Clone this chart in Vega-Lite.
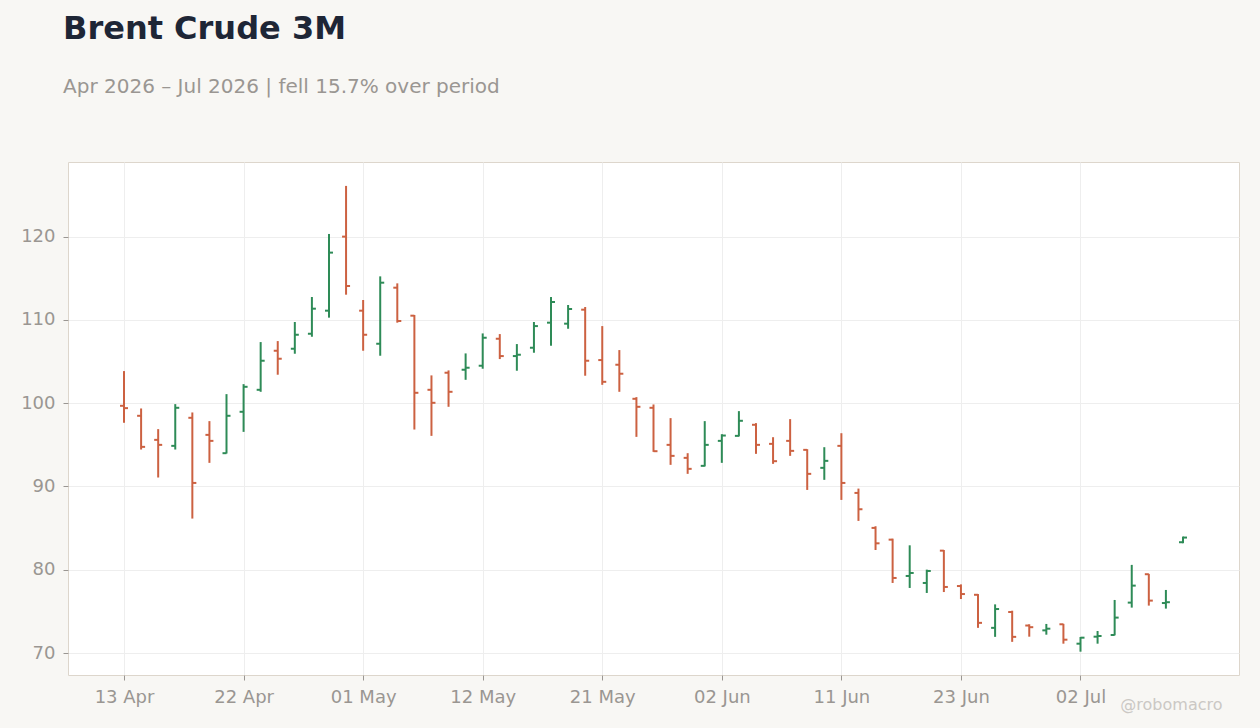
{
  "$schema": "https://vega.github.io/schema/vega-lite/v6.json",
  "autosize": {"type": "none"},
  "width": 1171,
  "height": 513,
  "padding": {"left": 68, "top": 162, "right": 21, "bottom": 53},
  "background": "#f8f7f4",
  "title": {
    "text": "Brent Crude 3M",
    "subtitle": "Apr 2026 – Jul 2026 | fell 15.7% over period",
    "anchor": "start",
    "frame": "group",
    "dx": -5,
    "offset": 64,
    "font": "DejaVu Sans",
    "fontSize": 32,
    "fontWeight": "bold",
    "color": "#1e2636",
    "subtitleFont": "DejaVu Sans",
    "subtitleFontSize": 20,
    "subtitleColor": "#9a9692",
    "subtitlePadding": 31
  },
  "config": {
    "view": {"stroke": "#ddd6cc", "fill": "#ffffff", "strokeWidth": 1},
    "axis": {
      "labelFont": "DejaVu Sans",
      "labelFontSize": 18,
      "labelColor": "#9a9692",
      "tickColor": "#9a9692",
      "tickSize": 5,
      "labelPadding": 8,
      "domain": false,
      "gridColor": "#eeeeee",
      "gridWidth": 1
    }
  },
  "data": {
    "values": [
      {"d": "13 Apr", "o": 99.68, "h": 103.85, "l": 97.64, "c": 99.40},
      {"d": "14 Apr", "o": 98.48, "h": 99.36, "l": 94.43, "c": 94.75},
      {"d": "15 Apr", "o": 95.59, "h": 96.88, "l": 91.07, "c": 94.99},
      {"d": "16 Apr", "o": 94.87, "h": 99.88, "l": 94.43, "c": 99.44},
      {"d": "17 Apr", "o": 98.24, "h": 98.88, "l": 86.14, "c": 90.42},
      {"d": "20 Apr", "o": 96.19, "h": 97.84, "l": 92.83, "c": 95.47},
      {"d": "21 Apr", "o": 93.99, "h": 101.08, "l": 93.95, "c": 98.48},
      {"d": "22 Apr", "o": 98.96, "h": 102.28, "l": 96.55, "c": 101.96},
      {"d": "23 Apr", "o": 101.60, "h": 107.33, "l": 101.36, "c": 105.09},
      {"d": "24 Apr", "o": 106.29, "h": 107.45, "l": 103.41, "c": 105.33},
      {"d": "27 Apr", "o": 106.53, "h": 109.74, "l": 105.93, "c": 108.21},
      {"d": "28 Apr", "o": 108.33, "h": 112.74, "l": 107.97, "c": 111.34},
      {"d": "29 Apr", "o": 111.10, "h": 120.31, "l": 110.26, "c": 118.07},
      {"d": "30 Apr", "o": 119.99, "h": 126.08, "l": 113.02, "c": 114.06},
      {"d": "01 May", "o": 111.10, "h": 112.38, "l": 106.29, "c": 108.21},
      {"d": "04 May", "o": 107.13, "h": 115.22, "l": 105.69, "c": 114.46},
      {"d": "05 May", "o": 113.86, "h": 114.38, "l": 109.66, "c": 109.86},
      {"d": "06 May", "o": 110.50, "h": 110.58, "l": 96.83, "c": 101.24},
      {"d": "07 May", "o": 101.60, "h": 103.33, "l": 96.07, "c": 100.04},
      {"d": "08 May", "o": 103.65, "h": 103.93, "l": 99.56, "c": 101.36},
      {"d": "11 May", "o": 104.01, "h": 105.97, "l": 102.80, "c": 104.25},
      {"d": "12 May", "o": 104.49, "h": 108.37, "l": 104.13, "c": 107.85},
      {"d": "13 May", "o": 107.73, "h": 108.29, "l": 105.29, "c": 105.65},
      {"d": "14 May", "o": 105.65, "h": 107.09, "l": 103.89, "c": 105.81},
      {"d": "15 May", "o": 106.65, "h": 109.74, "l": 106.05, "c": 109.25},
      {"d": "18 May", "o": 109.66, "h": 112.74, "l": 106.89, "c": 112.14},
      {"d": "19 May", "o": 109.54, "h": 111.78, "l": 108.93, "c": 111.30},
      {"d": "20 May", "o": 111.22, "h": 111.54, "l": 103.29, "c": 105.09},
      {"d": "21 May", "o": 105.17, "h": 109.25, "l": 102.20, "c": 102.56},
      {"d": "22 May", "o": 104.61, "h": 106.37, "l": 101.36, "c": 103.53},
      {"d": "26 May", "o": 100.52, "h": 100.72, "l": 95.95, "c": 99.56},
      {"d": "27 May", "o": 99.44, "h": 99.84, "l": 94.15, "c": 94.23},
      {"d": "28 May", "o": 94.99, "h": 98.20, "l": 92.59, "c": 93.67},
      {"d": "29 May", "o": 93.43, "h": 93.99, "l": 91.51, "c": 92.11},
      {"d": "01 Jun", "o": 92.47, "h": 97.84, "l": 92.40, "c": 94.99},
      {"d": "02 Jun", "o": 95.47, "h": 96.27, "l": 92.83, "c": 96.11},
      {"d": "03 Jun", "o": 96.07, "h": 99.04, "l": 96.00, "c": 97.88},
      {"d": "04 Jun", "o": 97.40, "h": 97.60, "l": 93.91, "c": 94.99},
      {"d": "05 Jun", "o": 95.11, "h": 95.91, "l": 92.71, "c": 93.03},
      {"d": "08 Jun", "o": 95.47, "h": 98.08, "l": 93.67, "c": 94.27},
      {"d": "09 Jun", "o": 94.39, "h": 94.47, "l": 89.58, "c": 91.51},
      {"d": "10 Jun", "o": 92.23, "h": 94.71, "l": 90.79, "c": 93.07},
      {"d": "11 Jun", "o": 94.87, "h": 96.39, "l": 88.38, "c": 90.42},
      {"d": "12 Jun", "o": 89.22, "h": 89.74, "l": 85.86, "c": 87.26},
      {"d": "15 Jun", "o": 85.02, "h": 85.22, "l": 82.37, "c": 83.17},
      {"d": "16 Jun", "o": 83.61, "h": 83.73, "l": 78.41, "c": 79.01},
      {"d": "17 Jun", "o": 79.25, "h": 82.93, "l": 77.81, "c": 79.61},
      {"d": "18 Jun", "o": 78.41, "h": 80.01, "l": 77.21, "c": 79.85},
      {"d": "22 Jun", "o": 82.29, "h": 82.37, "l": 77.32, "c": 77.93},
      {"d": "23 Jun", "o": 78.04, "h": 78.24, "l": 76.48, "c": 77.08},
      {"d": "24 Jun", "o": 76.99, "h": 77.08, "l": 73.02, "c": 73.62},
      {"d": "25 Jun", "o": 73.02, "h": 75.84, "l": 71.94, "c": 75.28},
      {"d": "26 Jun", "o": 74.92, "h": 75.08, "l": 71.34, "c": 71.94},
      {"d": "29 Jun", "o": 73.30, "h": 73.45, "l": 71.96, "c": 73.10},
      {"d": "30 Jun", "o": 72.72, "h": 73.49, "l": 72.20, "c": 72.92},
      {"d": "01 Jul", "o": 73.45, "h": 73.50, "l": 71.12, "c": 71.60},
      {"d": "02 Jul", "o": 71.12, "h": 71.92, "l": 70.16, "c": 71.84},
      {"d": "06 Jul", "o": 71.96, "h": 72.64, "l": 71.12, "c": 72.04},
      {"d": "07 Jul", "o": 72.16, "h": 76.37, "l": 72.12, "c": 74.25},
      {"d": "08 Jul", "o": 76.05, "h": 80.58, "l": 75.45, "c": 78.09},
      {"d": "09 Jul", "o": 79.46, "h": 79.50, "l": 75.69, "c": 76.29},
      {"d": "10 Jul", "o": 76.00, "h": 77.57, "l": 75.33, "c": 76.10},
      {"d": "13 Jul", "o": 83.30, "h": 83.98, "l": 83.18, "c": 83.86}
    ]
  },
  "transform": [
    {"window": [{"op": "row_number", "as": "day"}]}
  ],
  "encoding": {
    "x": {
      "field": "day",
      "type": "quantitative",
      "scale": {"domain": [-2.28, 66.28], "nice": false, "zero": false},
      "axis": {
        "values": [1, 8, 15, 22, 29, 36, 43, 50, 57],
        "labelExpr": "['13 Apr','22 Apr','01 May','12 May','21 May','02 Jun','11 Jun','23 Jun','02 Jul'][round((datum.value - 1) / 7)]",
        "labelAngle": 0,
        "grid": true,
        "title": "@robomacro",
        "titleFont": "DejaVu Sans",
        "titleFontSize": 16,
        "titleFontWeight": "normal",
        "titleColor": "#cbc8c4",
        "titleAlign": "right",
        "titleBaseline": "alphabetic",
        "titleX": 1154,
        "titleY": 34
      }
    },
    "color": {
      "condition": {"test": "datum.c >= datum.o", "value": "#2e8b57"},
      "value": "#cc6141"
    }
  },
  "layer": [
    {
      "mark": {"type": "rule", "strokeWidth": 2},
      "encoding": {
        "y": {
          "field": "l",
          "type": "quantitative",
          "scale": {"domain": [67.36, 128.95], "nice": false, "zero": false},
          "axis": {"values": [70, 80, 90, 100, 110, 120], "title": null, "grid": true}
        },
        "y2": {"field": "h"}
      }
    },
    {
      "mark": {"type": "tick", "orient": "horizontal", "size": 4, "thickness": 2, "xOffset": -2, "opacity": 1},
      "encoding": {"y": {"field": "o", "type": "quantitative"}}
    },
    {
      "mark": {"type": "tick", "orient": "horizontal", "size": 4, "thickness": 2, "xOffset": 2, "opacity": 1},
      "encoding": {"y": {"field": "c", "type": "quantitative"}}
    }
  ]
}
